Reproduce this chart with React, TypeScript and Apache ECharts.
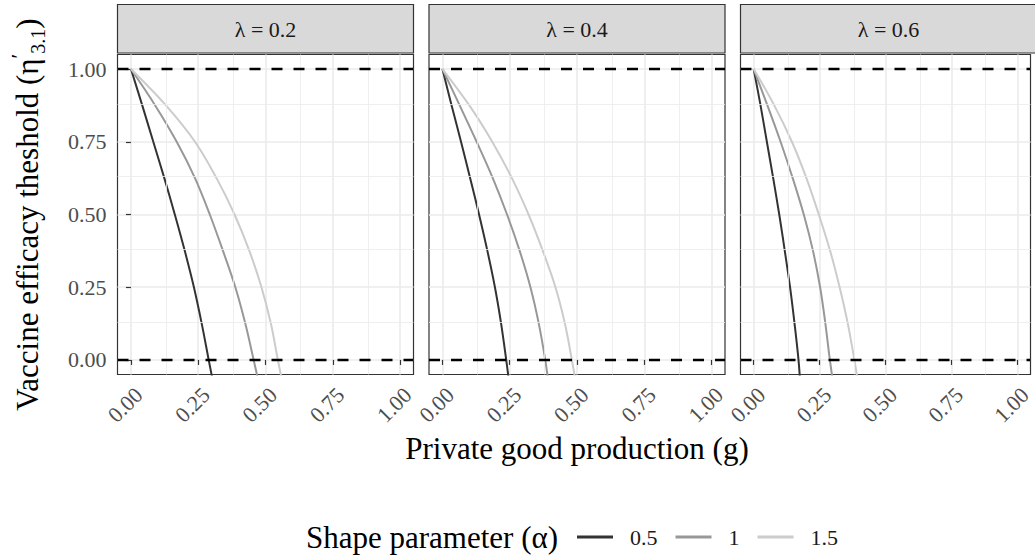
import React, { useEffect, useRef } from "react";
import * as echarts from "echarts";

const FONT = "Liberation Serif";

const panelLabels = ["λ = 0.2", "λ = 0.4", "λ = 0.6"];
const alphaLevels = ["0.5", "1", "1.5"];
const alphaColors = ["#333333", "#989898", "#cccccc"];
const xTicks = [0, 0.25, 0.5, 0.75, 1];
const yTicks = [0, 0.25, 0.5, 0.75, 1];
const minorBreaks = [0.125, 0.375, 0.625, 0.875];
const refLines = [0, 1];

// threshold values (y) at which the curves were read
const yLevels = [1, 0.875, 0.75, 0.625, 0.5, 0.375, 0.25, 0.125, 0, -0.1];

// private good production (x) read at each y level, per panel and alpha
const lam02_a05 = [0, 0.042, 0.083, 0.124, 0.163, 0.2, 0.234, 0.263, 0.289, 0.31];
const lam02_a1 = [0, 0.09, 0.17, 0.238, 0.293, 0.342, 0.388, 0.425, 0.456, 0.48];
const lam02_a15 = [0, 0.13, 0.238, 0.318, 0.385, 0.44, 0.485, 0.52, 0.546, 0.568];

const lam04_a05 = [0, 0.034, 0.069, 0.103, 0.136, 0.167, 0.195, 0.218, 0.237, 0.251];
const lam04_a1 = [0, 0.064, 0.127, 0.187, 0.24, 0.287, 0.327, 0.358, 0.382, 0.397];
const lam04_a15 = [0, 0.1, 0.185, 0.258, 0.32, 0.373, 0.42, 0.455, 0.481, 0.5];

const lam06_a05 = [0, 0.026, 0.05, 0.074, 0.097, 0.118, 0.138, 0.155, 0.17, 0.178];
const lam06_a1 = [0, 0.052, 0.102, 0.148, 0.19, 0.225, 0.252, 0.272, 0.289, 0.305];
const lam06_a15 = [0, 0.078, 0.145, 0.2, 0.247, 0.29, 0.326, 0.357, 0.382, 0.4];

const panels = [
  [lam02_a05, lam02_a1, lam02_a15],
  [lam04_a05, lam04_a1, lam04_a15],
  [lam06_a05, lam06_a1, lam06_a15],
];

export default function App() {
  const ref = useRef<HTMLDivElement>(null);

  useEffect(() => {
    document.body.style.margin = "0";
    if (!ref.current) return;
    const chart = echarts.init(ref.current, undefined, { renderer: "svg" });

    const gridLefts = [117.5, 429, 740.5];
    const gridTop = 54.5;
    const gridW = 296;
    const gridH = 320;

    const grid = gridLefts.map((l) => ({
      left: l,
      top: gridTop,
      width: gridW,
      height: gridH,
      show: true,
      backgroundColor: "#ffffff",
      borderColor: "#333333",
      borderWidth: 1.2,
    }));

    const xAxis = gridLefts.map((_, i) => ({
      gridIndex: i,
      type: "value",
      min: -0.05,
      max: 1.05,
      axisLine: { show: false },
      axisTick: {
        show: true,
        customValues: xTicks,
        length: 5,
        lineStyle: { color: "#333333", width: 1.2 },
      },
      axisLabel: {
        show: true,
        customValues: xTicks,
        rotate: 45,
        margin: 9,
        align: "right",
        verticalAlign: "top",
        formatter: (v: number) => v.toFixed(2),
        fontSize: 22,
        fontFamily: FONT,
        color: "#4d4d4d",
      },
      splitLine: { show: true, lineStyle: { color: "#ebebeb", width: 1.6 } },
      name: i === 1 ? "Private good production (g)" : "",
      nameLocation: "middle",
      nameGap: 57,
      nameTextStyle: { fontSize: 31, fontFamily: FONT, color: "#000000" },
    }));

    const yAxis = gridLefts.map((_, i) => ({
      gridIndex: i,
      type: "value",
      min: -0.05,
      max: 1.05,
      axisLine: { show: false },
      axisTick: {
        show: i === 0,
        customValues: yTicks,
        length: 5,
        lineStyle: { color: "#333333", width: 1.2 },
      },
      axisLabel: {
        show: i === 0,
        customValues: yTicks,
        margin: 11,
        formatter: (v: number) => v.toFixed(2),
        fontSize: 22,
        fontFamily: FONT,
        color: "#4d4d4d",
      },
      splitLine: { show: true, lineStyle: { color: "#ebebeb", width: 1.6 } },
      name: i === 0 ? "{m|Vaccine efficacy theshold (η}{sup|′}{sub|3.1}{m|)}" : "",
      nameLocation: "middle",
      nameGap: 70,
      nameTextStyle: {
        fontSize: 31,
        fontFamily: FONT,
        color: "#000000",
        rich: {
          m: { fontSize: 31, fontFamily: FONT, color: "#000000", lineHeight: 40 },
          sup: { fontSize: 22, fontFamily: FONT, color: "#000000", verticalAlign: "top", lineHeight: 40 },
          sub: { fontSize: 20, fontFamily: FONT, color: "#000000", verticalAlign: "bottom", lineHeight: 40 },
        },
      },
    }));

    const series: any[] = [];
    panels.forEach((curves, p) => {
      // minor grid lines
      series.push({
        type: "line",
        xAxisIndex: p,
        yAxisIndex: p,
        data: [],
        z: 1,
        silent: true,
        markLine: {
          silent: true,
          symbol: "none",
          label: { show: false },
          animation: false,
          lineStyle: { color: "#ebebeb", width: 0.8, type: "solid" },
          data: [
            ...minorBreaks.map((v) => ({ xAxis: v })),
            ...minorBreaks.map((v) => ({ yAxis: v })),
          ],
        },
      });
      curves.forEach((xs, a) => {
        series.push({
          type: "line",
          name: alphaLevels[a],
          xAxisIndex: p,
          yAxisIndex: p,
          data: xs.map((x, k) => [x, yLevels[k]]),
          showSymbol: false,
          symbol: "none",
          smooth: 0.35,
          clip: true,
          color: alphaColors[a],
          lineStyle: { color: alphaColors[a], width: 2 },
          z: 3,
        });
      });
      // dashed reference lines
      series.push({
        type: "line",
        xAxisIndex: p,
        yAxisIndex: p,
        data: [],
        z: 4,
        silent: true,
        markLine: {
          silent: true,
          symbol: "none",
          label: { show: false },
          animation: false,
          lineStyle: { color: "#000000", width: 2.4, type: [11, 11] },
          data: refLines.map((v) => ({ yAxis: v })),
        },
      });
    });

    const graphic: any[] = [];
    gridLefts.forEach((l, i) => {
      graphic.push({
        type: "rect",
        shape: { x: l, y: 4.5, width: gridW, height: 48.5 },
        style: { fill: "#d9d9d9", stroke: "#333333", lineWidth: 1.2 },
      });
      graphic.push({
        type: "text",
        x: l + gridW / 2,
        y: 29,
        style: {
          text: panelLabels[i],
          fontSize: 22,
          fontFamily: FONT,
          fill: "#1a1a1a",
          align: "center",
          verticalAlign: "middle",
        },
      });
    });
    graphic.push({
      type: "text",
      x: 306,
      y: 537,
      style: {
        text: "Shape parameter (α)",
        fontSize: 31,
        fontFamily: FONT,
        fill: "#000000",
        align: "left",
        verticalAlign: "middle",
      },
    });

    chart.setOption({
      animation: false,
      backgroundColor: "#ffffff",
      grid,
      xAxis,
      yAxis,
      series,
      graphic,
      legend: {
        data: alphaLevels,
        left: 577,
        top: 526,
        padding: 0,
        icon: "rect",
        itemWidth: 36,
        itemHeight: 3,
        itemGap: 18,
        selectedMode: false,
        textStyle: {
          fontSize: 22,
          fontFamily: FONT,
          color: "#1a1a1a",
          padding: [0, 0, 0, 12],
        },
      },
    });

    return () => chart.dispose();
  }, []);

  return <div ref={ref} style={{ width: 1035, height: 556 }} />;
}
